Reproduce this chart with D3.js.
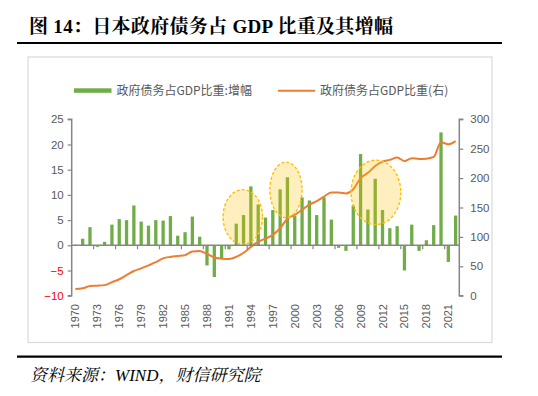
<!DOCTYPE html>
<html><head><meta charset="utf-8">
<script src="https://cdn.jsdelivr.net/npm/d3@7"></script>
<style>
body{margin:0;background:#fff;}
svg{display:block;}
</style></head>
<body>
<svg id="c" width="538" height="396"></svg>
<script>
const years = d3.range(1970, 2023);
const growth = [0.1,1.3,3.6,-0.3,0.7,4.1,5.2,5.0,7.9,4.7,
  3.9,5.0,4.9,5.8,1.9,2.6,5.7,1.7,-4.0,-6.3,
  -2.6,-0.8,4.3,6.0,11.7,8.1,5.5,7.0,11.1,13.5,
  5.8,9.5,8.9,6.0,9.5,5.1,-0.5,-1.1,7.9,18.1,
  7.1,13.2,7.0,3.4,3.8,-5.0,4.1,-1.1,1.0,4.0,
  22.4,-3.3,5.9];
const ratio = [11.3,12.5,16.4,17,18,23,28,35,42,46.5,
  51.6,57,63.5,66,67.5,69,75,76,71,65,
  63,62.4,66,73,83,92,97,103.5,115,131,
  137.5,146,155,160.7,168.6,175.5,175.5,174,181,200,
  209,220.7,228,231,235,229,233.7,232.6,233,236,
  261,257.5,263];
const leftTicks = [25,20,15,10,5,0,-5,-10];
const rightTicks = [300,250,200,150,100,50,0];
const labelYears = d3.range(1970, 2023, 3);
// highlighted regions: year span and value span (left axis units)
const highlights = [
  {x0:1990.7, x1:1996.1, v0:0.2, v1:11.05},
  {x0:1997.1, x1:2001.5, v0:5.5, v1:16.5},
  {x0:2008.2, x1:2015.0, v0:4.1, v1:16.9}
];
const title = "图 14：日本政府债务占 GDP 比重及其增幅";
const source = "资料来源：WIND，财信研究院";
const legendLabels = ["政府债务占GDP比重:增幅", "政府债务占GDP比重(右)"];

const svg = d3.select("#c");
const L = 71.7, R = 459.3, T = 119.3, B = 295.7;
const x = d3.scaleBand().domain(years).range([L, R]).paddingInner(0).paddingOuter(0);
const step = x.step();
const xc = yr => L + (yr - 1970 + 0.5) * step;
const yL = d3.scaleLinear().domain([-10, 25]).range([B, T]);
const yR = d3.scaleLinear().domain([0, 300]).range([B, T]);

// title
svg.append("text").attr("x", 29).attr("y", 33)
  .attr("font-family", "'Liberation Serif','Noto Serif CJK SC','Noto Sans CJK SC',serif")
  .attr("font-weight", "bold").attr("font-size", 19).attr("fill", "#000")
  .attr("textLength", 364).attr("lengthAdjust", "spacing")
  .text(title);
svg.append("line").attr("x1", 17).attr("x2", 502).attr("y1", 43).attr("y2", 43)
  .attr("stroke", "#000").attr("stroke-width", 2.2);

// frame
svg.append("rect").attr("x", 28).attr("y", 57).attr("width", 464).attr("height", 285.5)
  .attr("fill", "#fff").attr("stroke", "#d9d9d9").attr("stroke-width", 1.2);

// legend
const lg = svg.append("g").attr("font-family", "'Noto Sans CJK SC','Liberation Sans',sans-serif")
  .attr("font-size", 12).attr("fill", "#595959");
lg.append("rect").attr("x", 74).attr("y", 88.3).attr("width", 37.5).attr("height", 4.5).attr("fill", "#70AD47");
lg.append("text").attr("x", 116.5).attr("y", 94.8).text(legendLabels[0]);
lg.append("line").attr("x1", 278).attr("x2", 315).attr("y1", 90.7).attr("y2", 90.7)
  .attr("stroke", "#ED7D31").attr("stroke-width", 2);
lg.append("text").attr("x", 320).attr("y", 94.8).text(legendLabels[1]);

// bars
const bw = step * 0.45;
svg.append("g").selectAll("rect").data(years).join("rect")
  .attr("x", (d, i) => x(d) + (step - bw) / 2)
  .attr("width", bw)
  .attr("y", (d, i) => yL(Math.max(0, growth[i])))
  .attr("height", (d, i) => Math.abs(yL(growth[i]) - yL(0)))
  .attr("fill", "#70AD47");

// line
const line = d3.line().x((d, i) => xc(years[i])).y(d => yR(d)).curve(d3.curveMonotoneX);
svg.append("path").datum(ratio).attr("d", line).attr("fill", "none")
  .attr("stroke", "#ED7D31").attr("stroke-width", 2).attr("stroke-linejoin", "round");

// highlight ellipses
svg.append("g").selectAll("ellipse").data(highlights).join("ellipse")
  .attr("cx", d => (xc(d.x0) + xc(d.x1)) / 2 - step / 2)
  .attr("cy", d => (yL(d.v0) + yL(d.v1)) / 2)
  .attr("rx", d => (xc(d.x1) - xc(d.x0)) / 2)
  .attr("ry", d => (yL(d.v0) - yL(d.v1)) / 2)
  .attr("fill", "#FFC000").attr("fill-opacity", 0.25)
  .attr("stroke", "#FFC000").attr("stroke-width", 1.4).attr("stroke-dasharray", "3,2");

// axes
const axisColor = "#868686";
const fontAx = "'Liberation Sans',Arial,sans-serif";
const gl = svg.append("g").attr("transform", `translate(${L},0)`)
  .call(d3.axisLeft(yL).tickValues(leftTicks).tickSize(4).tickPadding(4));
gl.select(".domain").attr("stroke", axisColor).attr("stroke-width", 1.5).attr("d", `M-4,${T}H0V${B}H-4`);
gl.selectAll(".tick line").attr("stroke", axisColor).attr("stroke-width", 1.2);
gl.selectAll(".tick text").attr("font-family", fontAx).attr("font-size", 11.5)
  .attr("fill", d => d < 0 ? "#FF0000" : "#595959");

const gr = svg.append("g").attr("transform", `translate(${R},0)`)
  .call(d3.axisRight(yR).tickValues(rightTicks).tickSize(4).tickPadding(7));
gr.select(".domain").attr("stroke", axisColor).attr("stroke-width", 1.5).attr("d", `M4,${T}H0V${B}H4`);
gr.selectAll(".tick line").attr("stroke", axisColor).attr("stroke-width", 1.2);
gr.selectAll(".tick text").attr("font-family", fontAx).attr("font-size", 11.5).attr("fill", "#595959");

// x axis at zero
const y0 = yL(0);
svg.append("line").attr("x1", L).attr("x2", R).attr("y1", y0).attr("y2", y0)
  .attr("stroke", axisColor).attr("stroke-width", 1.5);
svg.append("g").selectAll("line").data(years.filter((d, i) => i > 0 && i % 3 === 0)).join("line")
  .attr("x1", d => x(d)).attr("x2", d => x(d)).attr("y1", y0).attr("y2", y0 + 4)
  .attr("stroke", axisColor).attr("stroke-width", 1.2);

// x labels
svg.append("g").selectAll("text").data(labelYears).join("text")
  .attr("transform", d => `translate(${xc(d) + 4},${304}) rotate(-90)`)
  .attr("text-anchor", "end")
  .attr("font-family", fontAx).attr("font-size", 11).attr("fill", "#595959")
  .text(d => d);

// bottom rule & source
svg.append("line").attr("x1", 17).attr("x2", 502).attr("y1", 356.7).attr("y2", 356.7)
  .attr("stroke", "#000").attr("stroke-width", 2.2);
svg.append("text").attr("x", 30).attr("y", 381)
  .attr("font-family", "'Liberation Serif','Noto Serif CJK SC','Noto Sans CJK SC',serif")
  .attr("font-style", "italic").attr("font-size", 17).attr("fill", "#000")
  .text(source);
</script>
</body></html>
